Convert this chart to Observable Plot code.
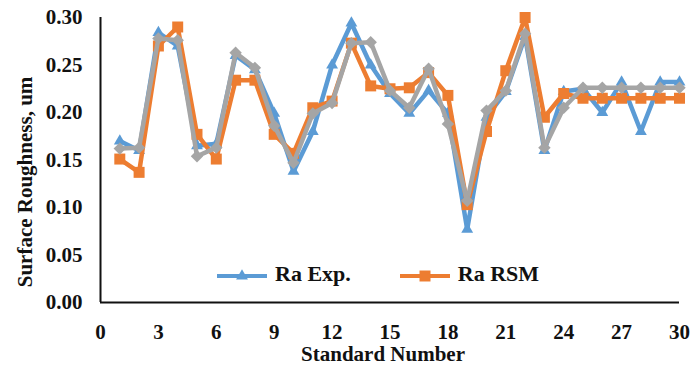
<!DOCTYPE html>
<html><head><meta charset="utf-8">
<script src="https://cdn.jsdelivr.net/npm/d3@7"></script>
<script src="https://cdn.jsdelivr.net/npm/@observablehq/plot@0.6"></script>
<style>
body{margin:0;background:#fff;}
#wrap{position:relative;width:691px;height:368px;font-family:"Liberation Serif","Times New Roman",serif;}
#legend{position:absolute;left:216px;top:261px;display:flex;align-items:center;font-weight:bold;font-size:22px;color:#111;}
#legend .item{display:flex;align-items:center;}
#legend svg{display:block;}
</style></head><body><div id="wrap"><div id="legend"></div></div>
<script>
const standardNumber = [1,2,3,4,5,6,7,8,9,10,11,12,13,14,15,16,17,18,19,20,21,22,23,24,25,26,27,28,29,30];
const raExp = [0.170,0.160,0.284,0.270,0.165,0.167,0.260,0.245,0.199,0.138,0.180,0.250,0.294,0.250,0.220,0.199,0.223,0.199,0.077,0.195,0.222,0.280,0.160,0.222,0.225,0.200,0.232,0.180,0.232,0.232];
const raRSM = [0.151,0.137,0.270,0.290,0.177,0.151,0.234,0.234,0.177,0.157,0.205,0.212,0.273,0.228,0.225,0.226,0.242,0.218,0.103,0.180,0.244,0.300,0.195,0.220,0.215,0.215,0.215,0.215,0.215,0.215];
const raModel = [0.162,0.163,0.278,0.276,0.154,0.163,0.263,0.247,0.186,0.147,0.199,0.210,0.273,0.274,0.223,0.205,0.246,0.188,0.107,0.202,0.223,0.283,0.163,0.205,0.226,0.226,0.226,0.226,0.226,0.226];
const seriesNames = ["Ra Exp.", "Ra RSM", "Ra Model"];
const seriesColors = ["#5B9BD5", "#ED7D31", "#A5A5A5"];
const seriesSymbols = ["triangle", "square", "diamond2"];
const seriesR = [4.4, 6.2, 5.6];
const xTicks = [0,3,6,9,12,15,18,21,24,27,30];
const yTicks = [0,0.05,0.10,0.15,0.20,0.25,0.30];
const legendShown = [0, 1];

const allValues = [raExp, raRSM, raModel];
const font = '"Liberation Serif","Times New Roman",serif';

const marks = [];
allValues.forEach((vals, k) => {
  const data = standardNumber.map((n, i) => ({n, v: vals[i]}));
  marks.push(Plot.line(data, {x: "n", y: "v", stroke: seriesColors[k], strokeWidth: 4.5, strokeLinejoin: "round"}));
  marks.push(Plot.dot(data, {x: "n", y: "v", symbol: () => seriesSymbols[k], r: seriesR[k], fill: seriesColors[k], stroke: "none"}));
});

const chart = Plot.plot({
  width: 691, height: 368,
  marginLeft: 100, marginRight: 12, marginTop: 17, marginBottom: 66,
  style: {fontFamily: font, fontWeight: "bold", fontSize: "21px", color: "#111", background: "#fff"},
  x: {domain: [0, 30]},
  y: {domain: [0, 0.30]},
  marks: [
    ...marks,
    Plot.axisX({ticks: xTicks, tickSize: 0, tickPadding: 22, label: null, fontSize: 21}),
    Plot.axisY({ticks: yTicks, tickSize: 0, tickPadding: 18, tickFormat: d3.format(".2f"), label: null, fontSize: 21}),
    Plot.ruleX([0], {stroke: "#111", strokeWidth: 2}),
    Plot.ruleY([0], {stroke: "#111", strokeWidth: 2}),
    Plot.text(["Surface Roughness, um"], {frameAnchor: "left", textAnchor: "middle", rotate: -90, dx: -75, dy: 22, fontSize: 21, fontWeight: "bold", fill: "#111"}),
    Plot.text(["Standard Number"], {frameAnchor: "bottom", textAnchor: "middle", lineAnchor: "middle", dx: -7, dy: 52, fontSize: 21, fontWeight: "bold", fill: "#111"})
  ]
});
document.getElementById("wrap").prepend(chart);

const legend = document.getElementById("legend");
legendShown.forEach((k, j) => {
  const item = document.createElement("div");
  item.className = "item";
  item.style.marginRight = j === 0 ? "48px" : "0";
  const sym = {triangle: d3.symbolTriangle, square: d3.symbolSquare, diamond2: d3.symbolDiamond2}[seriesSymbols[k]];
  const path = d3.symbol(sym, Math.PI * seriesR[k] * seriesR[k])();
  item.innerHTML = `<svg width="52" height="20"><line x1="1" x2="51" y1="12" y2="12" stroke="${seriesColors[k]}" stroke-width="4"/><path transform="translate(26,12)" d="${path}" fill="${seriesColors[k]}"/></svg><span style="margin-left:7px">${seriesNames[k]}</span>`;
  legend.appendChild(item);
});
</script>
</body></html>
